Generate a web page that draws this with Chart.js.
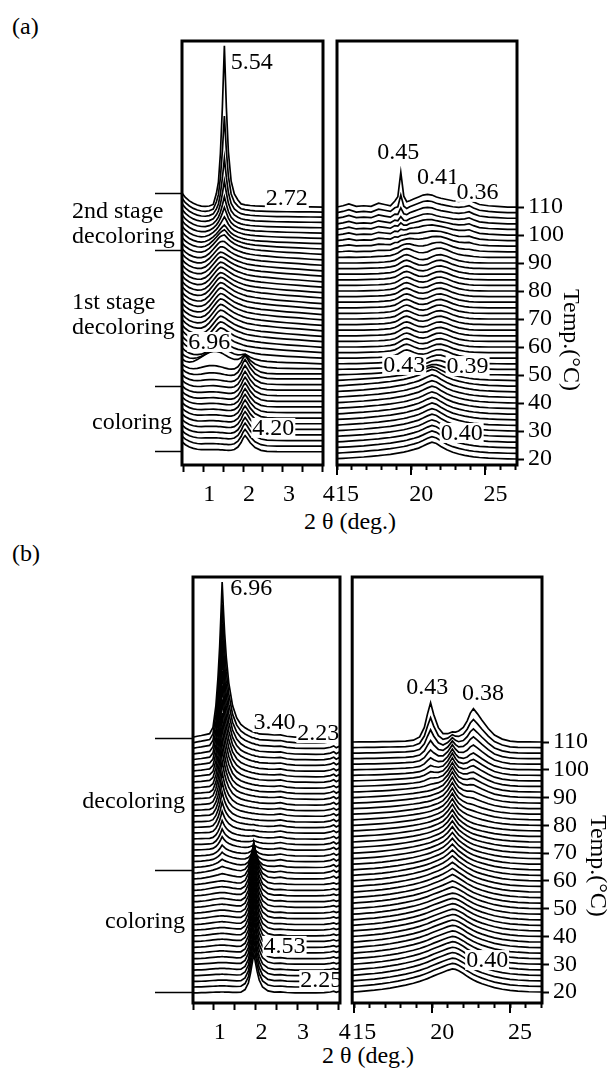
<!DOCTYPE html>
<html lang="en">
<head>
<meta charset="utf-8">
<title>XRD waterfall</title>
<script src="https://cdn.jsdelivr.net/npm/chart.js@4.4.1/dist/chart.umd.min.js"></script>
<style>
  html, body { margin: 0; padding: 0; background: #fff; overflow: hidden; }
  body { position: relative; width: 610px; height: 1070px; font-family: "Liberation Serif", "Times New Roman", serif; }
  canvas { position: absolute; }
  .lbl { position: absolute; font-size: 24px; line-height: 24px; color: #000; white-space: nowrap; }
  .mid { transform: translate(-50%, -50%); }
</style>
</head>
<body>
<div class="lbl" style="left:12px; top:14px;">(a)</div>
<div class="lbl mid" style="left:350px; top:521px;">2 θ (deg.)</div>
<div class="lbl" style="left:12px; top:541px;">(b)</div>
<div class="lbl mid" style="left:368px; top:1055px;">2 θ (deg.)</div>
<canvas id="aL" width="343" height="515" style="left:0; top:15px;"></canvas>
<canvas id="aR" width="270" height="515" style="left:315px; top:15px;"></canvas>
<canvas id="bL" width="360" height="516" style="left:0; top:552px;"></canvas>
<canvas id="bR" width="278" height="516" style="left:332px; top:552px;"></canvas>
<script>
// scan temperatures (°C), one trace each; every trace is offset by its temperature
const temps = [20, 22, 24, 26, 28, 30, 32, 34, 36, 38, 40, 42, 44, 46, 48, 50, 52, 54, 56, 58,
  60, 62, 64, 66, 68, 70, 72, 74, 76, 78, 80, 82, 84, 86, 88, 90, 92, 94, 96, 98,
  100, 102, 104, 106, 108, 110];

// axis ticks
const tempTicks = [20, 30, 40, 50, 60, 70, 80, 90, 100, 110];
const lowTicks = [0.5, 1, 1.5, 2, 2.5, 3, 3.5, 4];
const lowLabels = [1, 2, 3, 4];
const wideTicks = [15, 16, 17, 18, 19, 20, 21, 22, 23, 24, 25, 26, 27];
const wideLabels = [15, 20, 25];

// ---------- (a) small angle, 2θ sample points and peak shapes ----------
const xsAL = [0.47, 0.55, 0.65, 0.75, 0.85, 0.95, 1.05, 1.15, 1.25, 1.33, 1.38, 1.43, 1.48, 1.53, 1.58, 1.63,
  1.7, 1.78, 1.87, 1.95, 2.0, 2.05, 2.1, 2.18, 2.3, 2.45, 2.6, 2.85, 3.1, 3.4, 3.7, 4.0];
const edgeAL = [1, 0.7, 0.45, 0.27, 0.14, 0.06, 0.02, 0, 0, 0, 0, 0, 0, 0, 0, 0,
  0, 0, 0, 0, 0, 0, 0, 0, 0, 0, 0, 0, 0, 0, 0, 0];
const hump696 = [0, 0.05, 0.15, 0.3, 0.5, 0.7, 0.88, 0.98, 1.0, 0.95, 0.9, 0.85, 0.79, 0.72, 0.66, 0.6,
  0.52, 0.43, 0.34, 0.27, 0.23, 0.2, 0.17, 0.13, 0.09, 0.05, 0.03, 0.01, 0, 0, 0, 0];
const peak420 = [0, 0, 0, 0, 0, 0, 0, 0, 0, 0, 0, 0, 0, 0, 0, 0,
  0.02, 0.08, 0.25, 0.55, 0.82, 1.0, 0.85, 0.55, 0.25, 0.08, 0.02, 0, 0, 0, 0, 0];
const peakDec1 = [0, 0, 0, 0.02, 0.05, 0.1, 0.2, 0.38, 0.62, 0.82, 0.93, 1.0, 0.98, 0.93, 0.86, 0.79,
  0.7, 0.6, 0.52, 0.46, 0.42, 0.39, 0.36, 0.33, 0.29, 0.25, 0.22, 0.17, 0.13, 0.09, 0.04, 0];
const peakDec2 = [0, 0, 0, 0, 0, 0, 0, 0.02, 0.08, 0.2, 0.33, 0.5, 0.75, 1.0, 0.85, 0.62,
  0.4, 0.26, 0.17, 0.12, 0.1, 0.08, 0.07, 0.05, 0.03, 0.02, 0.01, 0, 0, 0, 0, 0];
const peak554 = [0, 0, 0, 0, 0, 0, 0, 0, 0, 0.06, 0.12, 0.3, 0.6, 1.0, 0.58, 0.3,
  0.12, 0.05, 0.02, 0, 0, 0, 0, 0, 0, 0, 0, 0, 0, 0, 0, 0];

// per-scan amounts (in °C of offset)
const liftAL = [2.6, 2.6, 2.6, 2.6, 2.6, 2.6, 2.6, 2.6, 2.6, 2.6,
  2.6, 2.6, 2.6, 2.6, 2.4, 2.2, 2.0, 2.0, 2.0, 1.9,
  1.9, 1.8, 1.8, 1.7, 1.7, 1.6, 1.6, 1.5, 1.5, 1.4,
  1.4, 1.3, 1.3, 1.2, 1.2, 1.1, 1.1, 1.0, 0.9, 0.8,
  0.7, 0.6, 0.5, 0.4, 0.2, 0.0];
const edgeAmtAL = [3.5, 3.5, 3.5, 3.5, 3.5, 3.5, 3.5, 3.5, 3.5, 3.5,
  3.5, 3.5, 3.5, 3.5, 3.5, 3.5, 3.6, 3.7, 3.8, 3.9,
  4.0, 4.0, 4.0, 4.0, 4.0, 4.0, 4.0, 4.0, 4.0, 4.0,
  4.0, 4.0, 4.0, 4.0, 4.0, 4.0, 4.0, 4.1, 4.2, 4.3,
  4.4, 4.5, 4.6, 4.7, 4.8, 4.9];
const hump696Amt = [0.8, 0.9, 1.0, 1.0, 1.1, 1.1, 1.2, 1.2, 1.3, 1.3,
  1.4, 1.6, 1.8, 2.2, 3.0, 5.5, 3.0, 1.0, 0.3, 0,
  0, 0, 0, 0, 0, 0, 0, 0, 0, 0,
  0, 0, 0, 0, 0, 0, 0, 0, 0, 0,
  0, 0, 0, 0, 0, 0];
const peak420Amt = [5.6, 5.8, 6.0, 6.0, 6.1, 6.1, 6.2, 6.2, 6.2, 6.3,
  6.3, 6.3, 6.4, 6.5, 6.0, 3.5, 1.5, 0.5, 0, 0,
  0, 0, 0, 0, 0, 0, 0, 0, 0, 0,
  0, 0, 0, 0, 0, 0, 0, 0, 0, 0,
  0, 0, 0, 0, 0, 0];
const dec1Amt = [0, 0, 0, 0, 0, 0, 0, 0, 0, 0,
  0, 0, 0, 0, 0, 1.2, 3.5, 5.2, 6.3, 6.9,
  7.1, 7.2, 7.4, 7.5, 7.5, 7.5, 7.5, 7.5, 7.4, 7.2,
  7.1, 7.0, 6.9, 6.7, 6.3, 6.0, 5.5, 4.6, 3.5, 2.9,
  2.3, 1.7, 1.4, 1.1, 0.9, 0.6];
const dec2Amt = [0, 0, 0, 0, 0, 0, 0, 0, 0, 0,
  0, 0, 0, 0, 0, 0, 0, 0, 0, 0,
  0, 0, 0, 0, 0, 0, 0, 0, 0, 0,
  0, 0, 0, 0, 0.5, 1.0, 1.8, 2.6, 3.4, 4.0,
  4.5, 5.0, 5.5, 6.0, 6.5, 7.0];
const peak554Amt = [0, 0, 0, 0, 0, 0, 0, 0, 0, 0,
  0, 0, 0, 0, 0, 0, 0, 0, 0, 0,
  0, 0, 0, 0, 0, 0, 0, 0, 0, 0,
  0, 0, 0, 0, 0, 0, 0, 0, 0, 1.0,
  2.5, 4.5, 8.0, 14, 27, 50];

// ---------- (a) wide angle ----------
const xsAR = [15, 15.4, 15.8, 16.3, 16.8, 17.3, 17.8, 18.2, 18.6, 18.9, 19.1, 19.3, 19.5, 19.7, 19.9, 20.2,
  20.5, 20.8, 21.1, 21.4, 21.7, 22.0, 22.4, 22.8, 23.2, 23.6, 23.9, 24.2, 24.6, 25.2, 25.8, 26.5, 27.1];
const broad040 = [0.02, 0.04, 0.06, 0.09, 0.12, 0.16, 0.2, 0.24, 0.28, 0.32, 0.35, 0.38, 0.41, 0.45, 0.5, 0.57,
  0.65, 0.77, 0.9, 1.0, 0.92, 0.75, 0.55, 0.4, 0.3, 0.22, 0.17, 0.13, 0.09, 0.05, 0.03, 0.01, 0];
const humps043039 = [0, 0, 0, 0, 0.02, 0.05, 0.08, 0.12, 0.2, 0.32, 0.5, 0.72, 0.92, 1.0, 0.9, 0.65,
  0.45, 0.4, 0.5, 0.75, 0.95, 1.0, 0.8, 0.5, 0.28, 0.15, 0.08, 0.04, 0.02, 0, 0, 0, 0];
const humps041036 = [0, 0.1, 0.25, 0.05, 0.1, 0.05, 0.3, 0.2, 0.1, 0.35, 0.2, 0.3, 0.25, 0.3, 0.5, 0.65,
  0.8, 0.95, 1.0, 0.95, 0.8, 0.7, 0.6, 0.5, 0.45, 0.5, 0.6, 0.4, 0.2, 0.1, 0.05, 0, 0];
const peak045 = [0, 0, 0, 0, 0, 0, 0, 0, 0, 0.05, 0.25, 1.0, 0.25, 0.05, 0, 0,
  0, 0, 0, 0, 0, 0, 0, 0, 0, 0, 0, 0, 0, 0, 0, 0, 0];

const broad040Amt = [6.0, 6.0, 6.0, 6.0, 6.0, 6.0, 6.0, 6.0, 6.0, 6.0,
  6.0, 6.0, 6.0, 6.0, 5.0, 3.0, 1.5, 0.8, 0.4, 0.2,
  0, 0, 0, 0, 0, 0, 0, 0, 0, 0,
  0, 0, 0, 0, 0, 0, 0, 0, 0, 0,
  0, 0, 0, 0, 0, 0];
const humps043039Amt = [0, 0, 0, 0, 0, 0, 0, 0, 0, 0,
  0, 0, 0, 0, 0, 1.0, 2.0, 2.5, 2.8, 2.9,
  3.0, 3.0, 3.0, 3.0, 3.0, 3.0, 3.0, 3.0, 3.0, 3.0,
  3.0, 3.0, 3.0, 3.0, 3.0, 3.0, 3.0, 2.5, 2.0, 1.5,
  1.0, 0.5, 0, 0, 0, 0];
const humps041036Amt = [0, 0, 0, 0, 0, 0, 0, 0, 0, 0,
  0, 0, 0, 0, 0, 0, 0, 0, 0, 0,
  0, 0, 0, 0, 0, 0, 0, 0, 0, 0,
  0, 0, 0, 0, 0, 0, 0.5, 1.2, 2.0, 2.5,
  3.0, 3.3, 3.6, 3.9, 4.2, 4.5];
const peak045Amt = [0, 0, 0, 0, 0, 0, 0, 0, 0, 0,
  0, 0, 0, 0, 0, 0, 0, 0, 0, 0,
  0, 0, 0, 0, 0, 0, 0, 0, 0, 0,
  0, 0, 0, 0, 0, 0, 0, 0, 0, 0,
  0.5, 1.0, 1.5, 2.5, 5.0, 11.0];

// ---------- (b) small angle ----------
const xsBL = [0.52, 0.6, 0.7, 0.8, 0.9, 0.98, 1.05, 1.1, 1.14, 1.17, 1.2, 1.23, 1.26, 1.3, 1.36, 1.45,
  1.55, 1.65, 1.75, 1.83, 1.88, 1.92, 1.96, 2.0, 2.04, 2.09, 2.17, 2.3, 2.45, 2.6,
  2.75, 2.95, 3.2, 3.45, 3.65, 3.8, 3.88, 3.94, 4.0, 4.03];
const peak696 = [0, 0.005, 0.01, 0.015, 0.02, 0.06, 0.2, 0.38, 0.58, 0.78, 1.0, 0.82, 0.66, 0.5, 0.33, 0.18,
  0.1, 0.06, 0.04, 0.03, 0.025, 0.02, 0.02, 0.015, 0.015, 0.01, 0.01, 0.01, 0.005, 0,
  0, 0, 0, 0, 0, 0, 0, 0, 0, 0];
const peak453 = [0, 0, 0, 0, 0, 0, 0, 0, 0, 0, 0, 0, 0, 0, 0, 0,
  0, 0.01, 0.08, 0.25, 0.5, 0.75, 1.0, 0.78, 0.55, 0.33, 0.15, 0.05, 0.01, 0,
  0, 0, 0, 0, 0, 0, 0, 0, 0, 0];
const humpBL = [0, 0.05, 0.15, 0.3, 0.5, 0.68, 0.82, 0.9, 0.96, 0.99, 1.0, 0.98, 0.95, 0.9, 0.8, 0.62,
  0.45, 0.3, 0.18, 0.1, 0.07, 0.05, 0.04, 0.03, 0.02, 0.01, 0, 0, 0, 0,
  0, 0, 0, 0, 0, 0, 0, 0, 0, 0];
const tailBL = [0.1, 0.1, 0.1, 0.12, 0.15, 0.2, 0.27, 0.33, 0.4, 0.45, 0.5, 0.55, 0.6, 0.66, 0.74, 0.8,
  0.78, 0.72, 0.65, 0.58, 0.54, 0.5, 0.47, 0.44, 0.41, 0.38, 0.34, 0.28, 0.22, 0.17,
  0.13, 0.09, 0.06, 0.04, 0.02, 0.01, 0, 0, 0, 0];
const bumps340223 = [0, 0, 0, 0, 0, 0, 0, 0, 0, 0, 0, 0, 0, 0, 0, 0,
  0, 0, 0, 0, 0, 0, 0, 0, 0, 0, 0, 0, 0.2, 0.6,
  0.2, 0, 0, 0, 0.1, 0.5, 1.0, 0.3, 0.8, 0.4];

const liftBL = [-0.3, -0.2, -0.2, -0.1, -0.1, 0, 0, 0.1, 0.1, 0.2,
  0.2, 0.3, 0.3, 0.4, 0.4, 0.5, 0.5, 0.6, 0.6, 0.7,
  0.7, 0.8, 0.8, 0.9, 0.9, 1.0, 1.0, 1.0, 1.1, 1.1,
  1.1, 1.2, 1.2, 1.2, 1.3, 1.3, 1.3, 1.4, 1.4, 1.4,
  1.5, 1.5, 1.5, 1.6, 1.6, 1.6];
const peak696Amt = [0, 0, 0, 0, 0, 0, 0, 0, 0, 0,
  0, 0, 0, 0, 0, 0, 0, 0, 0, 0,
  0.4, 0.8, 1.5, 2.2, 3.0, 4.0, 5.0, 6.0, 7.2, 8.5,
  10, 11.5, 13, 15, 17, 19, 21.5, 24, 27, 30,
  33, 36.5, 40, 44, 49, 55];
const peak453Amt = [14, 14.5, 15, 15, 15, 15.5, 15.5, 15.5, 16, 16,
  16, 16, 16, 16, 16, 16, 16, 16, 15.5, 15,
  13, 10, 6, 3.5, 2, 1.2, 0.8, 0.5, 0.3, 0.2,
  0, 0, 0, 0, 0, 0, 0, 0, 0, 0,
  0, 0, 0, 0, 0, 0];
const humpBLAmt = [0.3, 0.4, 0.5, 0.5, 0.6, 0.6, 0.7, 0.7, 0.8, 0.8,
  0.9, 0.9, 1.0, 1.0, 1.1, 1.1, 1.2, 1.2, 1.3, 1.3,
  1.4, 1.4, 1.2, 0.8, 0.5, 0.3, 0, 0, 0, 0,
  0, 0, 0, 0, 0, 0, 0, 0, 0, 0,
  0, 0, 0, 0, 0, 0];
const tailBLAmt = [0, 0, 0, 0, 0, 0, 0, 0, 0, 0,
  0, 0, 0, 0, 0, 0, 0, 0, 0, 0,
  0.2, 0.4, 0.6, 0.8, 1.0, 1.2, 1.3, 1.4, 1.5, 1.6,
  1.7, 1.8, 1.9, 2.0, 2.0, 2.0, 2.0, 2.0, 2.0, 2.0,
  2.0, 2.0, 2.0, 2.0, 2.0, 2.0];
const bumpsBLAmt = [0.6, 0.6, 0.6, 0.6, 0.6, 0.6, 0.6, 0.6, 0.6, 0.6,
  0.6, 0.6, 0.6, 0.6, 0.6, 0.6, 0.6, 0.6, 0.6, 0.6,
  1.0, 1.0, 1.0, 1.0, 1.0, 1.0, 1.0, 1.0, 1.0, 1.0,
  1.0, 1.0, 1.0, 1.0, 1.0, 1.0, 1.0, 1.0, 1.0, 1.0,
  1.0, 1.0, 1.0, 1.0, 1.0, 1.0];

// ---------- (b) wide angle ----------
const xsBR = [14.9, 15.3, 15.8, 16.3, 16.8, 17.3, 17.8, 18.3, 18.8, 19.2, 19.5, 19.7, 19.9, 20.1, 20.4, 20.7,
  21.0, 21.3, 21.5, 21.7, 22.0, 22.25, 22.45, 22.65, 22.9, 23.2, 23.6, 24.0, 24.5, 25.0, 25.5, 26.2, 27.0];
const broad040b = [0, 0.02, 0.05, 0.08, 0.12, 0.17, 0.23, 0.3, 0.38, 0.46, 0.53, 0.58, 0.64, 0.7, 0.78, 0.86,
  0.94, 1.0, 0.98, 0.92, 0.8, 0.68, 0.6, 0.52, 0.44, 0.36, 0.27, 0.19, 0.12, 0.07, 0.04, 0.01, 0];
const sharp213 = [0, 0, 0, 0, 0, 0, 0, 0, 0, 0, 0, 0, 0, 0.03, 0.08, 0.2,
  0.5, 1.0, 0.6, 0.3, 0.12, 0.05, 0.02, 0, 0, 0, 0, 0, 0, 0, 0, 0, 0];
const peak043 = [0, 0, 0, 0, 0, 0, 0, 0, 0.02, 0.1, 0.35, 0.7, 1.0, 0.68, 0.32, 0.15,
  0.08, 0.05, 0.03, 0.02, 0, 0, 0, 0, 0, 0, 0, 0, 0, 0, 0, 0, 0];
const peak038 = [0, 0, 0, 0, 0, 0, 0, 0, 0, 0, 0, 0, 0, 0, 0, 0,
  0.05, 0.1, 0.15, 0.22, 0.38, 0.6, 0.85, 1.0, 0.85, 0.65, 0.4, 0.2, 0.08, 0.02, 0, 0, 0];

const broad040bAmt = [8.3, 8.3, 8.2, 8.2, 8.1, 8.1, 8.0, 8.0, 8.0, 7.9,
  7.9, 7.8, 7.8, 7.7, 7.6, 7.5, 7.4, 7.3, 7.2, 7.1,
  7.0, 6.8, 6.6, 6.4, 6.2, 6.0, 5.8, 5.6, 5.4, 5.2,
  5.0, 4.8, 4.6, 4.4, 4.2, 4.0, 3.6, 3.2, 2.8, 2.4,
  2.0, 1.8, 1.6, 1.4, 1.2, 1.0];
const sharp213Amt = [0, 0, 0, 0, 0, 0, 0, 0, 0, 0,
  0, 0, 0, 0, 0, 0.3, 0.6, 1.0, 1.3, 1.6,
  2.0, 2.3, 2.6, 2.9, 3.2, 3.5, 3.8, 4.0, 4.2, 4.4,
  4.5, 4.6, 4.7, 4.8, 4.9, 5.0, 5.0, 5.0, 5.0, 5.0,
  4.8, 4.4, 3.8, 3.0, 2.0, 0.8];
const peak043Amt = [0, 0, 0, 0, 0, 0, 0, 0, 0, 0,
  0, 0, 0, 0, 0, 0, 0, 0, 0, 0,
  0, 0, 0, 0, 0, 0, 0, 0, 0, 0,
  0, 0, 0, 0, 0, 0, 0.5, 1.0, 1.5, 2.0,
  3.0, 4.0, 5.5, 7.5, 10, 13.5];
const peak038Amt = [0, 0, 0, 0, 0, 0, 0, 0, 0, 0,
  0, 0, 0, 0, 0, 0, 0, 0, 0, 0,
  0, 0, 0, 0, 0, 0, 0, 0, 0, 0,
  0.4, 0.7, 1.0, 1.5, 2.0, 2.5, 3.0, 3.5, 4.0, 4.5,
  5.0, 6.0, 7.0, 8.0, 9.5, 11.5];

const FAMILY = "'Liberation Serif', 'Times New Roman', serif";
const FONT = "24px 'Liberation Serif', 'Times New Roman', serif";

// one dataset per scan: temperature offset + weighted peak shapes
function traces(xs, lift, parts) {
  return temps.map((t, i) => ({
    data: xs.map((x, j) => {
      let y = t + (lift ? lift[i] : 0);
      parts.forEach(p => { y += p[1][i] * p[0][j]; });
      return { x: x, y: y };
    }),
    borderColor: '#000',
    borderWidth: 1.7,
    pointRadius: 0,
    tension: 0,
    fill: false
  }));
}

function decor(o) {
  return {
    id: 'decor',
    afterDraw(chart) {
      const ctx = chart.ctx, a = chart.chartArea;
      const x = chart.scales.x, y = chart.scales.y;
      ctx.save();
      ctx.font = FONT;
      // d-spacing labels (nm)
      ctx.save();
      ctx.beginPath();
      ctx.rect(a.left, a.top, a.right - a.left, a.bottom - a.top);
      ctx.clip();
      ctx.textAlign = 'center';
      ctx.textBaseline = 'middle';
      o.notes.forEach(n => {
        const px = x.getPixelForValue(n.x), py = y.getPixelForValue(n.y);
        const w = ctx.measureText(n.t).width;
        ctx.fillStyle = '#fff';
        ctx.fillRect(px - w / 2 - 1, py - 10, w + 2, 20);
        ctx.fillStyle = '#000';
        ctx.fillText(n.t, px, py + 1);
      });
      ctx.restore();

      // frame
      ctx.strokeStyle = '#000';
      ctx.lineWidth = 3;
      ctx.strokeRect(a.left, a.top, a.right - a.left, a.bottom - a.top);

      // longer major ticks on the wide-angle axis
      if (o.majorLen) {
        ctx.lineWidth = 2;
        o.xLabels.forEach(v => {
          const px = Math.round(x.getPixelForValue(v));
          ctx.beginPath();
          ctx.moveTo(px, a.bottom);
          ctx.lineTo(px, a.bottom + o.majorLen);
          ctx.stroke();
        });
      }

      // stage marks and names on the left
      if (o.stages) {
        ctx.lineWidth = 1.5;
        o.stages.marks.forEach(T => {
          const py = Math.round(y.getPixelForValue(T)) + 0.5;
          ctx.beginPath();
          ctx.moveTo(o.stages.from, py);
          ctx.lineTo(a.left, py);
          ctx.stroke();
        });
        ctx.fillStyle = '#000';
        ctx.textBaseline = 'middle';
        o.stages.texts.forEach(s => {
          ctx.textAlign = s.align;
          ctx.fillText(s.t, s.px, y.getPixelForValue(s.T));
        });
      }

      // rotated temperature title
      if (o.tempTitle) {
        ctx.translate(a.right + o.tempTitle.dx, y.getPixelForValue(o.tempTitle.T));
        ctx.rotate(Math.PI / 2);
        ctx.fillStyle = '#000';
        ctx.textAlign = 'center';
        ctx.textBaseline = 'middle';
        ctx.fillText('Temp.(°C)', 0, 0);
      }
      ctx.restore();
    }
  };
}

function makeChart(id, o) {
  const yAxis = o.tempTitle ? {
    type: 'linear', position: 'right', min: o.yMin, max: o.yMax,
    afterBuildTicks: s => { s.ticks = tempTicks.map(v => ({ value: v })); },
    afterFit: s => { s.width = 68; },
    border: { display: false },
    grid: { drawOnChartArea: false, tickLength: 7, tickWidth: 2, color: '#000' },
    ticks: { autoSkip: false, color: '#000', padding: 4, font: { family: FAMILY, size: 24 } }
  } : { type: 'linear', display: false, min: o.yMin, max: o.yMax };

  return new Chart(document.getElementById(id), {
    type: 'line',
    data: { datasets: traces(o.xs, o.lift, o.parts) },
    options: {
      responsive: false,
      animation: false,
      devicePixelRatio: 1,
      events: [],
      layout: { padding: o.pad },
      plugins: { legend: { display: false }, tooltip: { enabled: false } },
      scales: {
        x: {
          type: 'linear', min: o.xMin, max: o.xMax,
          afterBuildTicks: s => { s.ticks = o.xTicks.map(v => ({ value: v })); },
          afterFit: s => { s.height = 65; },
          border: { display: false },
          grid: { drawOnChartArea: false, tickLength: o.tickLen, tickWidth: 2, color: '#000' },
          ticks: {
            autoSkip: false, maxRotation: 0, color: '#000',
            padding: 15 - o.tickLen,
            labelOffset: o.labelOffset,
            font: { family: FAMILY, size: 24 },
            callback: v => (o.xLabels.includes(v) ? String(v) : '')
          }
        },
        y: yAxis
      }
    },
    plugins: [decor(o)]
  });
}

document.addEventListener('DOMContentLoaded', function() {
  // (a) small angle
  makeChart('aL', {
    xs: xsAL, lift: liftAL,
    parts: [[edgeAL, edgeAmtAL], [hump696, hump696Amt], [peak420, peak420Amt],
      [peakDec1, dec1Amt], [peakDec2, dec2Amt], [peak554, peak554Amt]],
    xMin: 0.465, xMax: 4.008, yMin: 17.86, yMax: 169.3,
    xTicks: lowTicks, xLabels: lowLabels, tickLen: 7, labelOffset: 6,
    pad: { left: 182, top: 26, right: 20, bottom: 0 },
    notes: [
      { t: '5.54', x: 2.22, y: 161.9 }, { t: '2.72', x: 3.1, y: 113.2 },
      { t: '6.96', x: 1.15, y: 61.8 }, { t: '4.20', x: 2.76, y: 31.1 }
    ],
    stages: {
      from: 155, marks: [115, 94.6, 46.1, 22.8],
      texts: [
        { t: '2nd stage', T: 108.2, px: 72, align: 'left' },
        { t: 'decoloring', T: 99.3, px: 72, align: 'left' },
        { t: '1st stage', T: 75.7, px: 72, align: 'left' },
        { t: 'decoloring', T: 66.8, px: 72, align: 'left' },
        { t: 'coloring', T: 32.9, px: 92, align: 'left' }
      ]
    }
  });

  // (a) wide angle
  makeChart('aR', {
    xs: xsAR, lift: null,
    parts: [[broad040, broad040Amt], [humps043039, humps043039Amt],
      [humps041036, humps041036Amt], [peak045, peak045Amt]],
    xMin: 15, xMax: 27.13, yMin: 17.86, yMax: 169.3,
    xTicks: wideTicks, xLabels: wideLabels, tickLen: 5, majorLen: 10, labelOffset: 10,
    pad: { left: 20, top: 26, right: 0, bottom: 0 },
    notes: [
      { t: '0.45', x: 19.13, y: 129.6 }, { t: '0.41', x: 21.8, y: 120.7 },
      { t: '0.36', x: 24.47, y: 115.4 }, { t: '0.43', x: 19.53, y: 53.6 },
      { t: '0.39', x: 23.8, y: 53.2 }, { t: '0.40', x: 23.4, y: 29.3 }
    ],
    tempTitle: { T: 62.5, dx: 53 }
  });

  // (b) small angle
  makeChart('bL', {
    xs: xsBL, lift: liftBL,
    parts: [[peak696, peak696Amt], [peak453, peak453Amt], [humpBL, humpBLAmt],
      [tailBL, tailBLAmt], [bumps340223, bumpsBLAmt]],
    xMin: 0.5, xMax: 4.03, yMin: 16.04, yMax: 169.4,
    xTicks: lowTicks, xLabels: lowLabels, tickLen: 7, labelOffset: 6,
    pad: { left: 193, top: 25, right: 20, bottom: 0 },
    notes: [
      { t: '6.96', x: 1.9, y: 165.4 }, { t: '3.40', x: 2.46, y: 117.2 },
      { t: '2.23', x: 3.51, y: 113.2 }, { t: '4.53', x: 2.7, y: 36.6 },
      { t: '2.25', x: 3.58, y: 24.3 }
    ],
    stages: {
      from: 155, marks: [111.4, 63.9, 20],
      texts: [
        { t: 'decoloring', T: 88.4, px: 185, align: 'right' },
        { t: 'coloring', T: 45.2, px: 185, align: 'right' }
      ]
    }
  });

  // (b) wide angle
  makeChart('bR', {
    xs: xsBR, lift: null,
    parts: [[broad040b, broad040bAmt], [sharp213, sharp213Amt],
      [peak043, peak043Amt], [peak038, peak038Amt]],
    xMin: 14.87, xMax: 27.05, yMin: 16.04, yMax: 169.4,
    xTicks: wideTicks, xLabels: wideLabels, tickLen: 5, majorLen: 10, labelOffset: 10,
    pad: { left: 20, top: 25, right: 0, bottom: 0 },
    notes: [
      { t: '0.43', x: 19.68, y: 129.8 }, { t: '0.38', x: 23.27, y: 127.6 },
      { t: '0.40', x: 23.53, y: 31.5 }
    ],
    tempTitle: { T: 65.4, dx: 55 }
  });
});
</script>
</body>
</html>
